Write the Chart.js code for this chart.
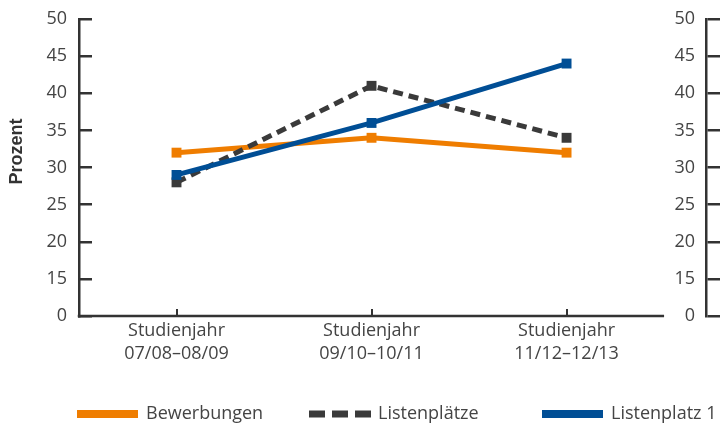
<!DOCTYPE html>
<html>
<head>
<meta charset="utf-8">
<script src="https://cdn.jsdelivr.net/npm/chart.js@4"></script>
<style>
  html, body { margin: 0; padding: 0; background: #ffffff; }
  #wrap { width: 723px; height: 425px; position: relative; }
</style>
</head>
<body>
<div id="wrap"><canvas id="c" width="723" height="425"></canvas></div>
<script>
// ---- data ----
const categories = ['Studienjahr 07/08–08/09', 'Studienjahr 09/10–10/11', 'Studienjahr 11/12–12/13'];
const seriesNames = ['Bewerbungen', 'Listenplätze', 'Listenplatz 1'];
const bewerbungen = [32, 34, 32];
const listenplaetze = [28, 41, 34];
const listenplatz1 = [29, 36, 44];
const yTickValues = [10, 15, 20, 25, 30, 35, 40, 45, 50];
const yTickLabels = ['0', '15', '20', '25', '30', '35', '40', '45', '50'];
const yAxisTitle = 'Prozent';

// ---- styles ----
const ORANGE = '#EF7D00';
const GRAY = '#3A3A3A';
const BLUE = '#004E95';
const AXIS = '#333333';
const TEXT = '#444444';
const FONT = '"Open Sans", "Liberation Sans", sans-serif';

function pts(arr) { return arr.map((v, i) => ({ x: i, y: v })); }
function catLines(s) { const k = s.indexOf(' '); return [s.slice(0, k), s.slice(k + 1)]; }
function yLabel(v) { const i = yTickValues.indexOf(v); return i >= 0 ? yTickLabels[i] : ''; }

const legendPlugin = {
  id: 'customLegend',
  afterDraw(chart) {
    const ctx = chart.ctx;
    const xs = [77, 309, 542];
    const y = 414;
    const w = 62;
    ctx.save();
    chart.data.datasets.forEach((ds, i) => {
      const x = xs[i];
      ctx.fillStyle = ds.borderColor;
      if (ds.borderDash && ds.borderDash.length) {
        for (let k = 0; k < 3; k++) ctx.fillRect(x + k * 23, y - 3.5, 16, 7);
      } else {
        ctx.fillRect(x, y - 4, w - 1, 8);
      }
      ctx.fillStyle = TEXT;
      ctx.font = '18px ' + FONT;
      ctx.textBaseline = 'middle';
      ctx.textAlign = 'left';
      ctx.fillText(ds.label, x + 69, y);
    });
    // y axis title
    ctx.translate(17, 151.5);
    ctx.rotate(-Math.PI / 2);
    ctx.font = 'bold 18px "Liberation Sans", Arial, sans-serif';
    ctx.fillStyle = '#333333';
    ctx.textAlign = 'center';
    ctx.textBaseline = 'middle';
    ctx.fillText(yAxisTitle, 0, 0);
    ctx.restore();
  }
};

const xAxisLinePlugin = {
  id: 'xAxisLine',
  afterDraw(chart) {
    const ctx = chart.ctx;
    const xs = chart.scales.x;
    const area = chart.chartArea;
    const right = xs.getPixelForValue(categories.length - 0.5);
    ctx.save();
    ctx.strokeStyle = AXIS;
    ctx.lineWidth = 2.5;
    ctx.beginPath();
    ctx.moveTo(area.left - 1.25, area.bottom);
    ctx.lineTo(right, area.bottom);
    ctx.stroke();
    ctx.restore();
  }
};

const yScaleBase = {
  type: 'linear',
  min: yTickValues[0],
  max: yTickValues[yTickValues.length - 1],
  afterBuildTicks(scale) { scale.ticks = yTickValues.map(v => ({ value: v })); },
  border: { display: true, color: AXIS, width: 2.5 },
};

new Chart(document.getElementById('c'), {
  type: 'line',
  data: {
    datasets: [
      {
        label: seriesNames[0], data: pts(bewerbungen), borderColor: ORANGE, backgroundColor: ORANGE,
        borderWidth: 5, pointStyle: 'rect', pointRadius: 7, pointBorderWidth: 0,
        pointBackgroundColor: ORANGE, tension: 0, order: 3, yAxisID: 'y'
      },
      {
        label: seriesNames[1], data: pts(listenplaetze), borderColor: GRAY, backgroundColor: GRAY,
        borderWidth: 5, borderDash: [10, 6], pointStyle: 'rect', pointRadius: 7, pointBorderWidth: 0,
        pointBackgroundColor: GRAY, tension: 0, order: 2, yAxisID: 'y'
      },
      {
        label: seriesNames[2], data: pts(listenplatz1), borderColor: BLUE, backgroundColor: BLUE,
        borderWidth: 5, pointStyle: 'rect', pointRadius: 7, pointBorderWidth: 0,
        pointBackgroundColor: BLUE, tension: 0, order: 1, yAxisID: 'y'
      }
    ]
  },
  options: {
    responsive: false,
    animation: false,
    events: [],
    layout: { padding: { top: 19, left: 0, right: 0, bottom: 0 } },
    plugins: { legend: { display: false }, tooltip: { enabled: false } },
    scales: {
      x: {
        type: 'linear',
        position: 'bottom',
        min: -0.5,
        max: 2.715,
        afterBuildTicks(scale) { scale.ticks = categories.map((c, i) => ({ value: i })); },
        afterFit(scale) { scale.height = 109; scale.paddingLeft = 0; scale.paddingRight = 0; },
        ticks: {
          callback(v) { return Number.isInteger(v) ? catLines(categories[v]) : ''; },
          font: { family: FONT, size: 18, lineHeight: 1.28 },
          color: TEXT,
          padding: 10,
          maxRotation: 0,
          autoSkip: false
        },
        grid: { drawOnChartArea: false, drawTicks: true, tickLength: -7, color: AXIS, lineWidth: 2 },
        border: { display: false }
      },
      y: Object.assign({}, yScaleBase, {
        position: 'left',
        afterFit(scale) { scale.width = 79; scale.paddingTop = 0; scale.paddingBottom = 0; },
        ticks: {
          callback: yLabel, font: { family: FONT, size: 18 }, color: TEXT, padding: 25, autoSkip: false
        },
        grid: { drawOnChartArea: false, drawTicks: true, tickLength: -13, color: AXIS, lineWidth: 2.5 }
      }),
      y2: Object.assign({}, yScaleBase, {
        position: 'right',
        afterFit(scale) { scale.width = 17; scale.paddingTop = 0; scale.paddingBottom = 0; },
        ticks: {
          callback: yLabel, font: { family: FONT, size: 18 }, color: TEXT, mirror: true, padding: -11, autoSkip: false
        },
        grid: { drawOnChartArea: false, drawTicks: true, tickLength: 14, color: AXIS, lineWidth: 2.5 }
      })
    }
  },
  plugins: [legendPlugin, xAxisLinePlugin]
});
</script>
</body>
</html>
